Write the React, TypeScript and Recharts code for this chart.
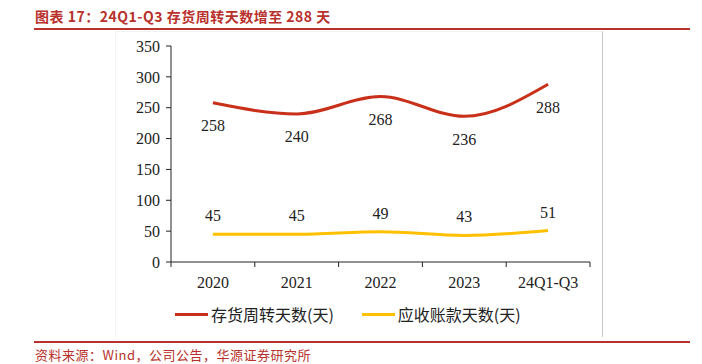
import React from "react";
import { LineChart, Line, XAxis, YAxis, LabelList } from "recharts";

const categories = ["2020", "2021", "2022", "2023", "24Q1-Q3"];
const inventoryDays = [258, 240, 268, 236, 288];
const receivableDays = [45, 45, 49, 43, 51];
const seriesNames = ["存货周转天数(天)", "应收账款天数(天)"];
const yTicks = [0, 50, 100, 150, 200, 250, 300, 350];
const title = "图表 17：24Q1-Q3 存货周转天数增至 288 天";
const source = "资料来源：Wind，公司公告，华源证券研究所";

const RED = "#C9301A";
const YELLOW = "#FFC000";
const TITLE_RED = "#B8312B";
const SERIF = '"Liberation Serif", "Times New Roman", "Noto Sans CJK SC", serif';

const data = categories.map((c, i) => ({
  name: c,
  inv: inventoryDays[i],
  rec: receivableDays[i],
}));

const PLOT_W = 419;
const BAND = PLOT_W / categories.length;

const XTick = (props: any) => {
  const { x, y, payload, index } = props;
  const left = x - BAND / 2;
  return (
    <g>
      <line x1={left} y1={y - 8} x2={left} y2={y - 3} stroke="#222" strokeWidth={1} />
      {index === categories.length - 1 && (
        <line x1={x + BAND / 2} y1={y - 8} x2={x + BAND / 2} y2={y - 3} stroke="#222" strokeWidth={1} />
      )}
      <text x={x} y={y + 18} textAnchor="middle" fill="#222" fontSize={16} fontFamily={SERIF}>
        {payload.value}
      </text>
    </g>
  );
};

export default function App() {
  return (
    <div style={{ position: "absolute", left: 0, top: 0, width: 702, height: 364, background: "#fff", fontFamily: '"Noto Sans CJK SC", sans-serif' }}>
      <div style={{ position: "absolute", left: 35, top: 6, fontSize: 14, fontWeight: 700, color: TITLE_RED, letterSpacing: 0.5, whiteSpace: "nowrap" }}>
        {title}
      </div>
      <div style={{ position: "absolute", left: 34, top: 28, width: 656, height: 2, background: TITLE_RED }} />
      <div style={{ position: "absolute", left: 115, top: 31, width: 486, height: 305, borderLeft: "1px solid #f2f2f2", borderTop: "1px solid #f2f2f2", borderRight: "1px solid #c8c8c8" }} />
      <div style={{ position: "absolute", left: 0, top: 0 }}>
        <LineChart width={702} height={364} data={data} margin={{ top: 46, right: 112, bottom: 72, left: 0 }}>
          <XAxis
            dataKey="name"
            tickLine={false}
            axisLine={{ stroke: "#222" }}
            tick={<XTick />}
            height={30}
            interval={0}
            padding={{ left: BAND / 2, right: BAND / 2 }}
          />
          <YAxis
            width={171}
            domain={[0, 350]}
            ticks={yTicks}
            interval={0}
            axisLine={{ stroke: "#222" }}
            tickLine={{ stroke: "#222" }}
            tickSize={5}
            tick={{ fill: "#222", fontSize: 16, fontFamily: SERIF }}
            tickMargin={6}
          />
          <Line type="monotone" dataKey="inv" stroke={RED} strokeWidth={3} dot={false} isAnimationActive={false}>
            <LabelList dataKey="inv" position="bottom" offset={17} fill="#222" fontSize={16} fontFamily={SERIF} />
          </Line>
          <Line type="monotone" dataKey="rec" stroke={YELLOW} strokeWidth={3} dot={false} isAnimationActive={false}>
            <LabelList dataKey="rec" position="top" offset={13} fill="#222" fontSize={16} fontFamily={SERIF} />
          </Line>
        </LineChart>
      </div>
      <div style={{ position: "absolute", left: 175, top: 302, display: "flex", alignItems: "center", fontSize: 16, color: "#222", whiteSpace: "nowrap" }}>
        <span style={{ display: "inline-block", width: 33, height: 3, background: RED, marginRight: 3 }} />
        <span>{seriesNames[0]}</span>
        <span style={{ display: "inline-block", width: 33, height: 3, background: YELLOW, marginLeft: 28, marginRight: 3 }} />
        <span>{seriesNames[1]}</span>
      </div>
      <div style={{ position: "absolute", left: 34, top: 341, width: 656, height: 2, background: TITLE_RED }} />
      <div style={{ position: "absolute", left: 35, top: 345, fontSize: 13, color: TITLE_RED, whiteSpace: "nowrap", letterSpacing: 0.5 }}>
        {source}
      </div>
    </div>
  );
}
